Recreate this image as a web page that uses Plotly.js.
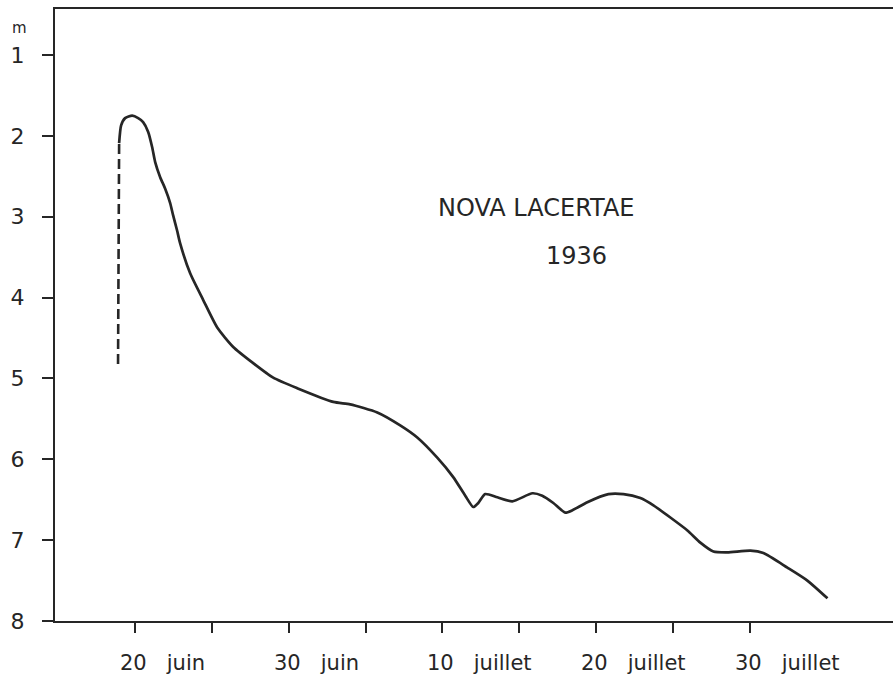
<!DOCTYPE html>
<html>
<head>
<meta charset="utf-8">
<script src="https://cdn.plot.ly/plotly-3.0.1.min.js"></script>
<style>html,body{margin:0;padding:0;background:#fff;}#chart{width:893px;height:681px;}</style>
</head>
<body>
<div id="chart"></div>
<script>
// Days are counted from 31 May 1936 (so 20 June = 20, 10 July = 40)
const dashDays = [18.90, 18.97];
const dashMags = [4.82, 2.09];

const days = [18.97, 19.10, 19.36, 19.82, 20.21, 20.53, 20.86, 21.12, 21.31, 21.64, 21.96, 22.29,
  22.48, 22.74, 22.94, 23.59, 24.44, 25.35, 26.39, 27.69, 28.99, 30.55, 32.90, 34.00, 35.76,
  37.25, 38.36, 39.66, 40.70, 41.48, 42.00, 42.33, 42.78, 43.57, 44.54, 45.85, 46.49, 47.21,
  47.99, 48.45, 49.42, 50.79, 51.77, 52.87, 53.72, 54.82, 55.93, 56.77, 57.62, 58.53, 60.03,
  60.87, 62.43, 63.73, 65.04];
const magnitudes = [2.09, 1.87, 1.78, 1.75, 1.78, 1.83, 1.95, 2.14, 2.32, 2.51, 2.65, 2.83,
  2.98, 3.17, 3.33, 3.70, 4.03, 4.37, 4.61, 4.81, 4.99, 5.12, 5.29, 5.32, 5.42,
  5.58, 5.73, 5.98, 6.22, 6.45, 6.59, 6.54, 6.43, 6.47, 6.52, 6.42, 6.45, 6.54,
  6.66, 6.63, 6.53, 6.43, 6.43, 6.48, 6.57, 6.72, 6.88, 7.03, 7.14, 7.15, 7.13,
  7.16, 7.34, 7.50, 7.72];

const tickDays = [20, 25, 30, 35, 40, 45, 50, 55, 60];
const labelDays = [20, 30, 40, 50, 60];
const labelTexts = ['20\u00a0\u00a0\u00a0juin', '30\u00a0\u00a0\u00a0juin', '10\u00a0\u00a0\u00a0juillet', '20\u00a0\u00a0\u00a0juillet', '30\u00a0\u00a0\u00a0juillet'];
const magTicks = [1, 2, 3, 4, 5, 6, 7, 8];
const magLabels = ['1', '2', '3', '4', '5', '6', '7', '8'];
const titleLines = ['NOVA LACERTAE', '1936'];
const unitLabel = 'm';

const ink = '#262626';
const font = 'DejaVu Sans, sans-serif';

const traces = [
  {x: dashDays, y: dashMags, mode: 'lines', line: {color: ink, width: 2.6, dash: '10px,5px'}, hoverinfo: 'skip'},
  {x: days, y: magnitudes, mode: 'lines', line: {color: ink, width: 2.7, shape: 'spline', smoothing: 0.6}, hoverinfo: 'skip'}
];

const annotations = labelDays.map((d, i) => ({
  x: d, xref: 'x', y: 0, yref: 'paper', text: labelTexts[i], showarrow: false,
  xanchor: 'left', yanchor: 'middle', xshift: -17, yshift: -42,
  font: {family: font, size: 21, color: ink}
}));
annotations.push({x: -0.042, xref: 'paper', y: 0.969, yref: 'paper', text: unitLabel, showarrow: false,
  xanchor: 'center', yanchor: 'middle', font: {family: font, size: 15, color: ink}});
annotations.push({x: 0.574, xref: 'paper', y: 0.675, yref: 'paper', text: titleLines[0], showarrow: false,
  xanchor: 'center', yanchor: 'middle', font: {family: font, size: 24, color: ink}});
annotations.push({x: 0.622, xref: 'paper', y: 0.596, yref: 'paper', text: titleLines[1], showarrow: false,
  xanchor: 'center', yanchor: 'middle', font: {family: font, size: 24, color: ink}});

const layout = {
  width: 893, height: 681,
  margin: {l: 55, r: 0, t: 9, b: 60},
  paper_bgcolor: '#fff', plot_bgcolor: '#fff',
  showlegend: false,
  xaxis: {
    range: [14.8, 69.3], tickmode: 'array', tickvals: tickDays, showticklabels: false,
    ticks: 'outside', ticklen: 10, tickwidth: 2, tickcolor: ink,
    showline: true, linewidth: 2, linecolor: ink, mirror: true,
    showgrid: false, zeroline: false, fixedrange: true
  },
  yaxis: {
    range: [8, 0.43], tickmode: 'array', tickvals: magTicks, ticktext: magLabels,
    ticks: 'outside', ticklen: 11, tickwidth: 2, tickcolor: ink,
    ticklabelstandoff: 13,
    tickfont: {family: font, size: 22, color: ink},
    showline: true, linewidth: 2, linecolor: ink,
    showgrid: false, zeroline: false, fixedrange: true
  },
  annotations: annotations
};

Plotly.newPlot('chart', traces, layout, {displayModeBar: false, staticPlot: true});
</script>
</body>
</html>
